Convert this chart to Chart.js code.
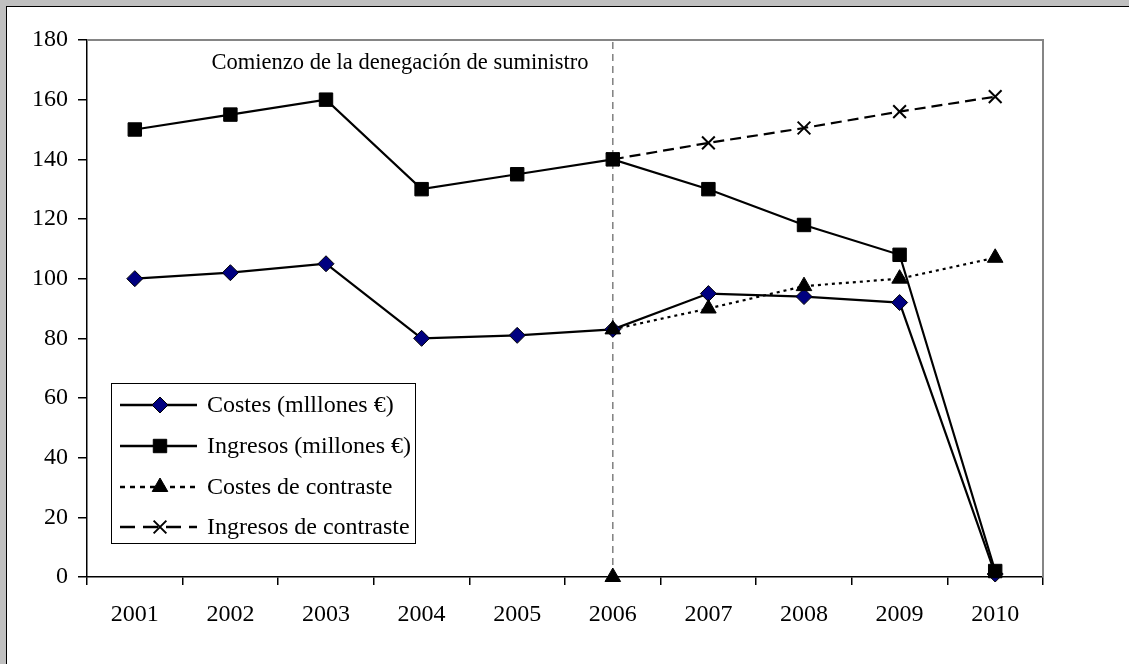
<!DOCTYPE html>
<html>
<head>
<meta charset="utf-8">
<script src="https://cdn.jsdelivr.net/npm/chart.js@4/dist/chart.umd.min.js"></script>
<style>
  html, body { margin: 0; padding: 0; background: #c0c0c0; overflow: hidden; }
  #marco { position: absolute; left: 6px; top: 6px; width: 1200px; height: 700px; background: #fff; border-left: 1px solid #000; border-top: 1px solid #000; }
  #grafico { position: absolute; left: 0; top: 0; }
</style>
</head>
<body>
<div id="marco"></div>
<canvas id="grafico" width="1129" height="664"></canvas>
<script>
// datos
var anios = ['2001', '2002', '2003', '2004', '2005', '2006', '2007', '2008', '2009', '2010'];
var costes = [100, 102, 105, 80, 81, 83, 95, 94, 92, 1];
var ingresos = [150, 155, 160, 130, 135, 140, 130, 118, 108, 2];
var costesContraste = [null, null, null, null, null, 83, 90, 97.5, 100, 107];
var ingresosContraste = [null, null, null, null, null, 140, 145.5, 150.5, 156, 161];
var ticksY = [0, 20, 40, 60, 80, 100, 120, 140, 160, 180];
var anioCorte = '2006';
var textoCorte = 'Comienzo de la denegación de suministro';

var fuente = '"Liberation Serif", "Times New Roman", serif';

// linea vertical punteada en el año del corte
var lineaCorte = [{x: anioCorte, y: ticksY[0]}, {x: anioCorte, y: ticksY[ticksY.length - 1]}];

var leyendaPlugin = {
	id: 'leyenda',
	beforeDatasetsDraw: function(chart){
		var ctx = chart.ctx, a = chart.chartArea;
		ctx.save();
		ctx.strokeStyle = '#858585';
		ctx.lineWidth = 2;
		ctx.beginPath();
		ctx.moveTo(a.left, a.top);
		ctx.lineTo(a.right, a.top);
		ctx.lineTo(a.right, a.bottom);
		ctx.stroke();
		ctx.restore();
	},
	afterDraw: function(chart){
		var ctx = chart.ctx;
		ctx.save();
		// texto del corte
		ctx.fillStyle = '#000';
		ctx.font = '22.5px ' + fuente;
		ctx.textAlign = 'center';
		ctx.textBaseline = 'middle';
		ctx.fillText(textoCorte, 400, 63);

		// caja de la leyenda
		ctx.fillStyle = '#fff';
		ctx.fillRect(111, 383, 304, 160);
		ctx.strokeStyle = '#000';
		ctx.lineWidth = 1;
		ctx.strokeRect(111.5, 383.5, 304, 160);

		var filas = [405, 446, 487, 527];
		var trazosLeyenda = [[], [], [5, 5], [15, 8]];
		ctx.font = '24px ' + fuente;
		ctx.textAlign = 'left';
		for (var i = 0; i < 4; i++) {
			var ds = chart.data.datasets[i];
			var y = filas[i];
			ctx.strokeStyle = '#000';
			ctx.lineWidth = 2.5;
			ctx.setLineDash(trazosLeyenda[i]);
			ctx.beginPath();
			ctx.moveTo(120, y);
			ctx.lineTo(197, y);
			ctx.stroke();
			ctx.setLineDash([]);
			ctx.fillStyle = ds.pointBackgroundColor;
			ctx.strokeStyle = ds.pointBorderColor;
			ctx.lineWidth = ds.pointBorderWidth;
			Chart.helpers.drawPoint(ctx, {
				pointStyle: ds.pointStyle,
				radius: ds.pointRadius,
				rotation: 0,
				borderWidth: ds.pointBorderWidth
			}, 160, y);
			ctx.fillStyle = '#000';
			ctx.fillText(ds.label, 207, y + 1);
		}
		ctx.restore();
	}
};

var ctx = document.getElementById('grafico').getContext('2d');
new Chart(ctx, {
	type: 'line',
	data: {
		labels: anios,
		datasets: [
			{
				label: 'Costes (mlllones €)',
				data: costes,
				borderColor: '#000',
				borderWidth: 2.2,
				pointStyle: 'rectRot',
				pointRadius: 8,
				pointBackgroundColor: '#000080',
				pointBorderColor: '#000',
				pointBorderWidth: 1,
				clip: false,
				order: 5
			},
			{
				label: 'Ingresos (millones €)',
				data: ingresos,
				borderColor: '#000',
				borderWidth: 2.2,
				pointStyle: 'rect',
				pointRadius: 9.5,
				pointBackgroundColor: '#000',
				pointBorderColor: '#000',
				pointBorderWidth: 1,
				clip: false,
				order: 4
			},
			{
				label: 'Costes de contraste',
				data: costesContraste,
				borderColor: '#000',
				borderWidth: 2.2,
				borderDash: [3, 4],
				pointStyle: 'triangle',
				pointRadius: 9,
				pointBackgroundColor: '#000',
				pointBorderColor: '#000',
				pointBorderWidth: 1,
				clip: false,
				order: 3
			},
			{
				label: 'Ingresos de contraste',
				data: ingresosContraste,
				borderColor: '#000',
				borderWidth: 2.2,
				borderDash: [11, 6],
				pointStyle: 'crossRot',
				pointRadius: 9,
				pointBackgroundColor: '#000',
				pointBorderColor: '#000',
				pointBorderWidth: 2,
				clip: false,
				order: 2
			},
			{
				label: 'corte',
				data: lineaCorte,
				borderColor: '#808080',
				borderWidth: 1.5,
				borderDash: [7, 5],
				pointStyle: 'triangle',
				pointRadius: [9, 0],
				pointBackgroundColor: '#000',
				pointBorderColor: '#000',
				pointBorderWidth: 1,
				clip: false,
				order: 6
			}
		]
	},
	options: {
		responsive: false,
		animation: false,
		spanGaps: false,
		layout: { padding: { left: 0, top: 40, right: 86, bottom: 0 } },
		plugins: {
			legend: { display: false },
			tooltip: { enabled: false }
		},
		scales: {
			x: {
				type: 'category',
				offset: true,
				grid: { display: true, drawOnChartArea: false, offset: true, tickLength: 8, color: '#000', lineWidth: 1.5 },
				border: { display: true, color: '#000', width: 1.5 },
				ticks: { color: '#000', font: { family: fuente, size: 24 }, padding: 15, maxRotation: 0 },
				afterFit: function(s){ s.height = 87; }
			},
			y: {
				min: 0,
				max: 180,
				afterBuildTicks: function(s){ s.ticks = ticksY.map(function(v){ return {value: v}; }); },
				grid: { display: true, drawOnChartArea: false, tickLength: 9, color: '#000', lineWidth: 1.5 },
				border: { display: true, color: '#000', width: 1.5 },
				ticks: { color: '#000', font: { family: fuente, size: 24 }, padding: 10 },
				afterFit: function(s){ s.width = 87; }
			}
		}
	},
	plugins: [leyendaPlugin]
});
</script>
</body>
</html>
